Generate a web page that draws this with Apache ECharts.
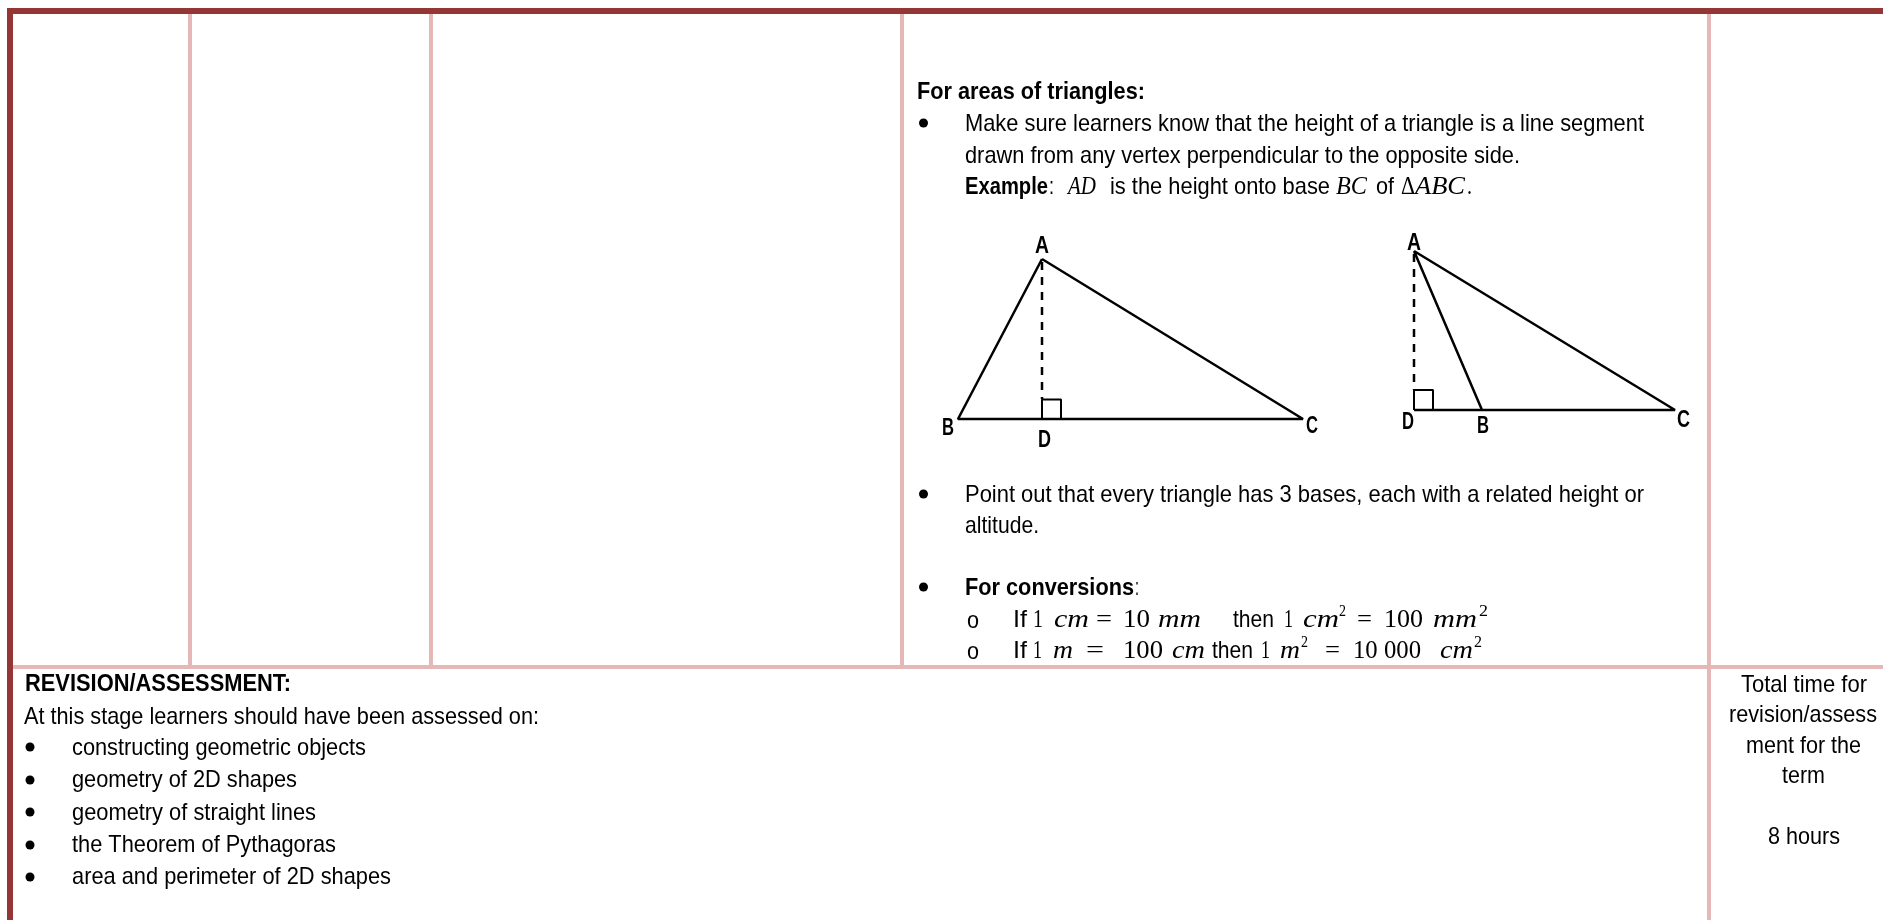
<!DOCTYPE html>
<html>
<head>
<meta charset="utf-8">
<title>Areas of triangles</title>
<script src="https://cdn.jsdelivr.net/npm/echarts@6/dist/echarts.min.js"></script>
<style>
  html, body { margin: 0; padding: 0; background: #fff; }
  #main { width: 1883px; height: 920px; }
</style>
</head>
<body>
<div id="main"></div>
<script>
// page text
const headTriangles = 'For areas of triangles:';
const bodyLines = [
  'Make sure learners know that the height of a triangle is a line segment',
  'drawn from any vertex perpendicular to the opposite side.',
  'Point out that every triangle has 3 bases, each with a related height or',
  'altitude.'
];
const exampleRuns = ['Example', ':', 'AD', 'is the height onto base', 'BC', 'of', 'Δ', 'ABC', '.'];
const conversionBold = ['For conversions', ':'];
const conversionA = ['If', '1', 'cm', '=', '10', 'mm', 'then', '1', 'cm', '2', '=', '100', 'mm', '2'];
const conversionB = ['If', '1', 'm', '=', '100', 'cm', 'then', '1', 'm', '2', '=', '10 000', 'cm', '2'];
const revisionHead = 'REVISION/ASSESSMENT:';
const revisionIntro = 'At this stage learners should have been assessed on:';
const revisionItems = [
  'constructing geometric objects',
  'geometry of 2D shapes',
  'geometry of straight lines',
  'the Theorem of Pythagoras',
  'area and perimeter of 2D shapes'
];
const totalTime = ['Total time for', 'revision/assess', 'ment for the', 'term', '8 hours'];

// triangle vertices (A, B, C, A)
const triangle1X = [1042, 958, 1303, 1042];
const triangle1Y = [259, 419, 419, 259];
const triangle2X = [1414, 1482, 1675, 1414];
const triangle2Y = [251, 410, 410, 251];
const triangle1Labels = ['A', 'B', 'D', 'C'];
const triangle2Labels = ['A', 'D', 'B', 'C'];

const maroon = '#943634';
const pink = '#E5B8B7';
const fonts = {
  r: '24px "Liberation Sans"',
  b: 'bold 24px "Liberation Sans"',
  i: 'italic 26px "Liberation Serif"',
  u: '25px "Liberation Serif"',
  s: '16px "Liberation Serif"',
  l: 'bold 24px "Liberation Sans"'
};

const ctx = document.createElement('canvas').getContext('2d');
const graphics = [];

// one text run squeezed to the extent it has in the picture
function run(text, x0, x1, y, kind) {
  ctx.font = fonts[kind];
  const w = ctx.measureText(text).width;
  graphics.push({
    type: 'text', x: x0, y: y, scaleX: (x1 - x0) / w, silent: true,
    style: { text: text, font: fonts[kind], fill: '#000', textVerticalAlign: 'middle', verticalAlign: 'middle' }
  });
}

function runs(list, extents, y, kinds) {
  list.forEach(function (t, i) {
    const k = kinds[i];
    run(t, extents[i][0], extents[i][1], k === 's' ? y - 8 : y, k);
  });
}

run(headTriangles, 917, 1145, 92, 'b');
run(bodyLines[0], 965, 1644, 124, 'r');
run(bodyLines[1], 965, 1520, 156, 'r');
runs(exampleRuns,
  [[965, 1048], [1049, 1054], [1068, 1096], [1110, 1330], [1336, 1367], [1376, 1394], [1401, 1415], [1415, 1465], [1467, 1472]],
  187, ['b', 'r', 'i', 'r', 'i', 'r', 'u', 'i', 'u']);
run(bodyLines[2], 965, 1644, 495, 'r');
run(bodyLines[3], 965, 1039, 526, 'r');
run(conversionBold[0], 965, 1134, 588, 'b');
run(conversionBold[1], 1135, 1139, 588, 'r');

const mathKinds = ['r', 'u', 'i', 'u', 'u', 'i', 'r', 'u', 'i', 's', 'u', 'u', 'i', 's'];
runs(conversionA,
  [[1013, 1027], [1033, 1043], [1054, 1089], [1096, 1112], [1123, 1150], [1158, 1201], [1233, 1274],
   [1284, 1293], [1303, 1339], [1339, 1346], [1357, 1372], [1384, 1423], [1433, 1477], [1479, 1488]],
  620, mathKinds);
runs(conversionB,
  [[1013, 1027], [1033, 1042], [1053, 1073], [1086, 1104], [1123, 1163], [1172, 1205], [1212, 1253],
   [1261, 1270], [1280, 1300], [1301, 1308], [1325, 1340], [1353, 1421], [1440, 1473], [1474, 1482]],
  651, mathKinds);
run('o', 967, 979, 621, 'r');
run('o', 967, 979, 652, 'r');

run(revisionHead, 25, 291, 684, 'b');
run(revisionIntro, 24, 539, 717, 'r');
const itemEnd = [366, 297, 316, 336, 391];
const itemY = [748, 780, 813, 845, 877];
revisionItems.forEach(function (t, i) { run(t, 72, itemEnd[i], itemY[i], 'r'); });

const totalExt = [[1741, 1867], [1729, 1877], [1746, 1861], [1782, 1825], [1768, 1840]];
const totalY = [685, 715, 746, 776, 837];
totalTime.forEach(function (t, i) { run(t, totalExt[i][0], totalExt[i][1], totalY[i], 'r'); });

// triangle letters
const label1Ext = [[1035, 1049], [942, 954], [1038, 1051], [1306, 1318]];
const label1Y = [246, 428, 440, 426];
triangle1Labels.forEach(function (t, i) { run(t, label1Ext[i][0], label1Ext[i][1], label1Y[i], 'l'); });
const label2Ext = [[1407, 1421], [1402, 1414], [1477, 1489], [1677, 1690]];
const label2Y = [243, 422, 426, 420];
triangle2Labels.forEach(function (t, i) { run(t, label2Ext[i][0], label2Ext[i][1], label2Y[i], 'l'); });

function seg(xs, ys, color, width, type) {
  return {
    type: 'line', data: xs.map(function (x, i) { return [x, ys[i]]; }),
    showSymbol: false, symbol: 'none', silent: true, animation: false, clip: false,
    lineStyle: { color: color, width: width, type: type || 'solid', opacity: 1 }
  };
}

const series = [
  // table rules
  seg([190, 190], [14, 667], pink, 4),
  seg([431, 431], [14, 667], pink, 4),
  seg([902, 902], [14, 667], pink, 4),
  seg([1709, 1709], [14, 920], pink, 4),
  seg([13, 1883], [667, 667], pink, 4),
  seg([7, 1883], [11, 11], maroon, 6),
  seg([10, 10], [8, 920], maroon, 6),
  // triangles
  seg(triangle1X, triangle1Y, '#000', 2.5),
  seg([1042, 1042], [262, 399], '#000', 2.5, [8, 7]),
  seg([1042, 1042, 1061, 1061], [419, 399.5, 399.5, 419], '#000', 2),
  seg(triangle2X, triangle2Y, '#000', 2.5),
  seg([1414, 1414], [254, 390], '#000', 2.5, [8, 7]),
  seg([1414, 1414, 1433, 1433], [410, 390, 390, 410], '#000', 2),
  seg([1414, 1482], [410, 410], '#000', 2.5),
  // bullets
  {
    type: 'scatter', symbol: 'circle', symbolSize: 9, silent: true, animation: false,
    itemStyle: { color: '#000', opacity: 1 },
    data: [[923.5, 123], [923.5, 494], [923.5, 587], [30, 747], [30, 780], [30, 812], [30, 845], [30, 877]]
  }
];

const chart = echarts.init(document.getElementById('main'));
chart.setOption({
  backgroundColor: '#fff',
  animation: false,
  grid: { left: 0, right: 0, top: 0, bottom: 0 },
  xAxis: { type: 'value', min: 0, max: 1883, show: false },
  yAxis: { type: 'value', min: 0, max: 920, inverse: true, show: false },
  series: series,
  graphic: graphics
});
</script>
</body>
</html>
